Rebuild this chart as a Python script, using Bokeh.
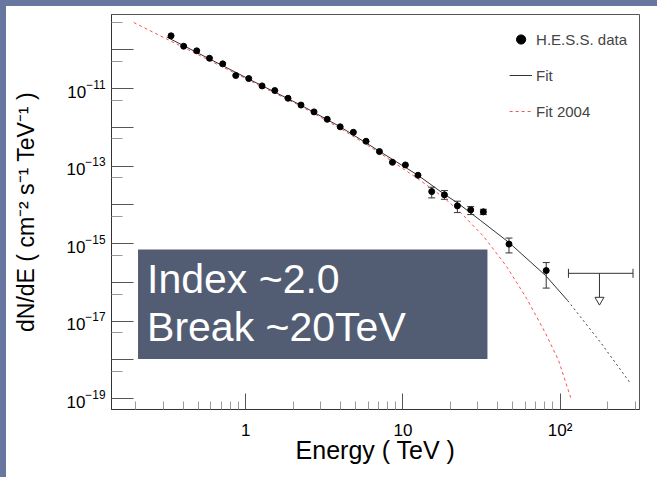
import numpy as np
from bokeh.plotting import figure
from bokeh.models import (ColumnDataSource, Whisker, TeeHead, FixedTicker, LogTickFormatter,
                          BoxAnnotation, Label, Legend, Spacer)
from bokeh.layouts import column, row
from bokeh.embed import file_html
from bokeh.resources import INLINE

# --- measured spectrum (TeV, cm^-2 s^-1 TeV^-1) ---
energy = [0.335, 0.403, 0.488, 0.588, 0.714, 0.864, 1.045, 1.27, 1.53, 1.858,
          2.247, 2.72, 3.30, 3.99, 4.84, 5.83, 7.09, 8.58, 10.37, 12.47,
          15.25, 18.37, 22.22, 27.0, 32.5, 47.3, 81.6]
flux = [2.29e-10, 1.235e-10, 9.4e-11, 6.05e-11, 4.33e-11, 2.17e-11, 1.81e-11, 1.17e-11, 8.88e-12, 5.62e-12,
        3.75e-12, 2.50e-12, 1.61e-12, 1.03e-12, 7.45e-13, 4.37e-13, 2.37e-13, 1.25e-13, 1.07e-13, 5.79e-14,
        2.20e-14, 1.81e-14, 9.40e-15, 7.41e-15, 6.58e-15, 9.7e-16, 2.01e-16]

# error bars large enough to show
err_energy = [15.25, 18.37, 22.22, 27.0, 32.5, 47.3, 81.6]
err_low = [1.51e-14, 1.39e-14, 6.31e-15, 5.60e-15, 5.60e-15, 5.75e-16, 7.11e-17]
err_high = [2.84e-14, 2.33e-14, 1.24e-14, 9.01e-15, 7.68e-15, 1.39e-15, 3.24e-16]

# upper limit in the last energy bin
ul_energy = [178.0]
ul_bin_low = [113.0]
ul_bin_high = [291.0]
ul_flux = [1.71e-16]

# current fit (solid part, then extrapolation)
fit_energy = [0.3144, 1.076, 2.238, 4.02, 7.22, 12.42, 18.18, 22.32, 31.25, 47.1, 81.0, 111.8]
fit_flux = [2.13e-10, 1.66e-11, 3.75e-12, 1.015e-12, 2.30e-13, 5.86e-14, 1.92e-14, 1.11e-14,
            3.92e-15, 1.08e-15, 1.49e-16, 3.38e-17]
fit_ext_energy = [111.8, 181.3, 281.2]
fit_ext_flux = [3.38e-17, 2.79e-18, 2.44e-19]

# 2004 fit
fit04_energy = [0.1939, 1.076, 2.238, 4.02, 7.22, 12.42, 18.18, 23.32, 32.66, 45.75, 61.3, 81.0, 97.9, 116.8]
fit04_flux = [5.05e-10, 1.56e-11, 3.53e-12, 9.29e-13, 2.10e-13, 4.76e-14, 1.54e-14, 6.31e-15,
              1.52e-15, 2.55e-16, 3.81e-17, 4.76e-18, 9.57e-19, 1.06e-19]

x_ticks = [1, 10, 100]
x_tick_labels = ["1", "10", "10\u00b2"]
x_minor = [0.2, 0.3, 0.4, 0.5, 0.6, 0.7, 0.8, 0.9,
           2, 3, 4, 5, 6, 7, 8, 9, 20, 30, 40, 50, 60, 70, 80, 90, 200, 300]
y_exponents = list(range(-10, -20, -1))

FONT = "Liberation Sans"
BG = "#6877a0"

p = figure(width=651, height=471, x_axis_type="log", y_axis_type="log",
           x_range=(0.14, 320), y_range=(10 ** -19.28, 10 ** -9.09),
           output_backend="svg", toolbar_location=None,
           min_border_left=105, min_border_right=18, min_border_top=8, min_border_bottom=68)
p.background_fill_color = "white"
p.border_fill_color = "white"
p.outline_line_color = "#555555"
p.xgrid.visible = False
p.ygrid.visible = False

# annotation box
box_left, box_right, box_top, box_bottom = 0.2065, 34.5, 7.0e-16, 1.06e-18
p.add_layout(BoxAnnotation(left=box_left, right=box_right, top=box_top, bottom=box_bottom,
                           fill_color="#525d73", fill_alpha=1.0, line_alpha=0, level="underlay"))
p.add_layout(Label(x=box_left, y=box_top, x_offset=9, y_offset=-6,
                   text="Index ~2.0\nBreak ~20TeV", text_font=FONT, text_font_size="41px",
                   text_color="white", text_baseline="top", text_align="left", text_line_height=1.06))

# curves
fit04 = p.line(fit04_energy, fit04_flux, line_color="#ff5050", line_width=1, line_dash="3 3")
fit = p.line(fit_energy, fit_flux, line_color="#333333", line_width=1)
p.line(fit_ext_energy, fit_ext_flux, line_color="#444444", line_width=1, line_dash="2 3")

# error bars
err_src = ColumnDataSource(dict(e=err_energy, lo=err_low, hi=err_high))
p.add_layout(Whisker(source=err_src, base="e", lower="lo", upper="hi", dimension="height",
                     line_color="#333333", line_width=1,
                     upper_head=TeeHead(size=7, line_color="#333333"),
                     lower_head=TeeHead(size=7, line_color="#333333")))

pts = p.scatter(energy, flux, size=6, color="black")

# upper limit with arrow
ul_src = ColumnDataSource(dict(e=ul_energy, lo=ul_bin_low, hi=ul_bin_high, f=ul_flux,
                               f_end=[v * 10 ** -0.62 for v in ul_flux],
                               f_tri=[v * 10 ** -0.686 for v in ul_flux]))
p.add_layout(Whisker(source=ul_src, base="f", lower="lo", upper="hi", dimension="width",
                     line_color="#333333", line_width=1,
                     upper_head=TeeHead(size=9, line_color="#333333"),
                     lower_head=TeeHead(size=9, line_color="#333333")))
p.segment(x0="e", y0="f", x1="e", y1="f_end", source=ul_src, line_color="#333333", line_width=1)
p.scatter(x="e", y="f_tri", source=ul_src, marker="inverted_triangle", size=9,
          fill_color="white", line_color="#333333", line_width=1)

# axes
xa = p.xaxis[0]
xa.ticker = FixedTicker(ticks=x_ticks, minor_ticks=x_minor)
xa.major_label_overrides = dict(zip(x_ticks, x_tick_labels))
xa.major_tick_in, xa.major_tick_out = 16, 0
xa.minor_tick_in, xa.minor_tick_out = 8, 0
xa.major_label_standoff = 11
xa.axis_label = "Energy ( TeV )"
xa.axis_label_standoff = -7

ya = p.yaxis[0]
ya.ticker = FixedTicker(ticks=[10.0 ** e for e in y_exponents],
                        minor_ticks=[5 * 10.0 ** e for e in y_exponents])
ya.formatter = LogTickFormatter()
ya.major_label_overrides = {10.0 ** e: "" for e in y_exponents if e % 2 == 0}
ya.major_tick_in, ya.major_tick_out = 22, 0
ya.minor_tick_in, ya.minor_tick_out = 11, 0
ya.major_label_standoff = 6
ya.axis_label = "dN/dE ( cm\u207b\u00b2 s\u207b\u00b9 TeV\u207b\u00b9 )"
ya.axis_label_standoff = 24

for ax in (xa, ya):
    ax.axis_line_color = "#333333"
    ax.major_tick_line_color = "#555555"
    ax.minor_tick_line_color = "#999999"
    ax.major_label_text_font = FONT
    ax.major_label_text_font_size = "17px"
    ax.major_label_text_color = "black"
    ax.axis_label_text_font = FONT
    ax.axis_label_text_font_style = "normal"
    ax.axis_label_text_color = "black"
xa.axis_label_text_font_size = "25px"
ya.axis_label_text_font_size = "23px"

legend = Legend(items=[("H.E.S.S. data", [pts]), ("Fit", [fit]), ("Fit 2004", [fit04])],
                location="top_right", margin=0, padding=12, spacing=10,
                glyph_width=23, glyph_height=26, label_height=26, label_standoff=4,
                label_text_font=FONT, label_text_font_size="15px",
                background_fill_alpha=0, border_line_alpha=0)
p.add_layout(legend)

layout = column(Spacer(width=657, height=6, styles={"background-color": BG}),
                row(Spacer(width=6, height=471, styles={"background-color": BG}), p))

open("out.html", "w").write(file_html(layout, INLINE))
